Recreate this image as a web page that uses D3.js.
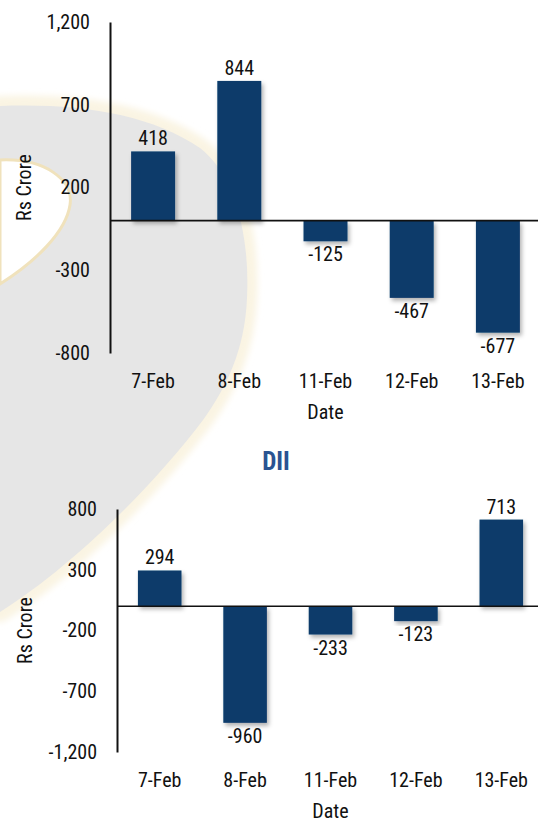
<!DOCTYPE html>
<html><head><meta charset="utf-8">
<script src="https://cdn.jsdelivr.net/npm/d3@7"></script>
<style>
html,body{margin:0;padding:0;background:#fff;overflow:hidden;}
svg text{font-family:'Liberation Sans Narrow','Roboto Condensed','DejaVu Sans Condensed',Roboto,sans-serif;font-stretch:condensed;fill:#111;}
</style></head><body>
<svg id="c" width="538" height="822"></svg>
<script>
const categories = ["7-Feb", "8-Feb", "11-Feb", "12-Feb", "13-Feb"];
const fiiValues = [418, 844, -125, -467, -677];
const diiValues = [294, -960, -233, -123, 713];
const fiiTicks = [-800, -300, 200, 700, 1200];
const diiTicks = [-1200, -700, -200, 300, 800];
const yAxisTitle = "Rs Crore";
const xAxisTitle = "Date";
const diiTitle = "DII";

const W = 538, H = 822;
const svg = d3.select("#c");
const fmt = d => d3.format(",")(d).replace("\u2212", "-");

const defs = svg.append("defs");
const f = defs.append("filter").attr("id", "sh").attr("x", "-20%").attr("y", "-20%").attr("width", "150%").attr("height", "150%");
f.append("feDropShadow").attr("dx", 2).attr("dy", 3).attr("stdDeviation", 2).attr("flood-color", "#000").attr("flood-opacity", 0.3);
const bl = defs.append("filter").attr("id", "bl").attr("x", "-10%").attr("y", "-10%").attr("width", "120%").attr("height", "120%");
bl.append("feGaussianBlur").attr("stdDeviation", 3);

// decorative background watermark
const bg = svg.append("g");
const outer = "M0,106 C80,103 150,114 200,148 C236,176 250,238 247,298 C245,350 226,388 203,420 C150,490 70,568 0,612 Z";
bg.append("path").attr("d", outer).attr("fill", "#faf4e3").attr("stroke", "#faf4e3").attr("stroke-width", 20)
  .attr("stroke-linejoin", "round").attr("filter", "url(#bl)");
bg.append("path").attr("d", outer).attr("fill", "#e6e6e6");
const hole = "M0,160 C45,158 74,180 70,205 C66,232 35,262 0,284 Z";
bg.append("path").attr("d", hole).attr("fill", "#fff").attr("stroke", "#f0e2bc").attr("stroke-width", 3);

function drawChart(cfg) {
  const g = svg.append("g");
  const y = d3.scaleLinear().domain(cfg.domain).range([cfg.yBot, cfg.yTop]);
  const x = d3.scaleBand().domain(categories).range([cfg.x0, cfg.x1]).paddingInner(0.49).paddingOuter(0.245);

  g.selectAll("rect.bar").data(cfg.values).join("rect")
    .attr("class", "bar")
    .attr("x", (d, i) => x(categories[i]))
    .attr("width", x.bandwidth())
    .attr("y", d => y(Math.max(0, d)))
    .attr("height", d => Math.abs(y(d) - y(0)))
    .attr("fill", "#0a3a6a")
    .attr("filter", "url(#sh)");

  g.append("line").attr("x1", cfg.x0).attr("x2", W).attr("y1", y(0)).attr("y2", y(0))
    .attr("stroke", "#111").attr("stroke-width", 1.6);

  const ya = g.append("g").attr("transform", `translate(${cfg.x0},0)`)
    .call(d3.axisLeft(y).tickValues(cfg.ticks).tickSize(0).tickPadding(20).tickFormat(fmt));
  ya.select(".domain").attr("stroke", "#111").attr("stroke-width", 2);
  ya.selectAll("text").attr("font-size", 20).attr("class", "cond");
  ya.attr("font-family", null);

  const xa = g.append("g").attr("transform", `translate(0,${cfg.catY})`)
    .call(d3.axisBottom(x).tickSize(0).tickPadding(0));
  xa.select(".domain").remove();
  xa.selectAll("text").attr("font-size", 20).attr("dy", "0.35em").attr("class", "cond");
  xa.attr("font-family", null);

  g.selectAll("text.val").data(cfg.values).join("text")
    .attr("class", "val cond")
    .attr("x", (d, i) => x(categories[i]) + x.bandwidth() / 2)
    .attr("y", d => d >= 0 ? y(d) - 13 : y(d) + 13)
    .attr("dy", "0.35em")
    .attr("text-anchor", "middle")
    .attr("font-size", 20)
    .text(fmt);

  g.append("text").attr("class", "cond").attr("x", (cfg.x0 + cfg.x1) / 2).attr("y", cfg.dateY).attr("dy", "0.35em")
    .attr("text-anchor", "middle").attr("font-size", 20).text(xAxisTitle);
  g.append("text").attr("class", "cond").attr("transform", `translate(${cfg.ylabX},${(cfg.yTop + cfg.yBot) / 2}) rotate(-90)`)
    .attr("dy", "0.35em").attr("text-anchor", "middle").attr("font-size", 20).text(yAxisTitle);
}

drawChart({ domain: [-800, 1200], ticks: fiiTicks, values: fiiValues,
  x0: 110, x1: 541, yTop: 22, yBot: 353, catY: 381, dateY: 412, ylabX: 24 });

svg.append("text").attr("x", 276).attr("y", 461).attr("dy", "0.35em").attr("text-anchor", "middle")
  .attr("font-size", 25).attr("font-weight", "bold").style("fill", "#2a5391").text(diiTitle);

drawChart({ domain: [-1200, 800], ticks: diiTicks, values: diiValues,
  x0: 117, x1: 544, yTop: 509, yBot: 752, catY: 780, dateY: 811, ylabX: 25 });

// condense text horizontally if the available font is wider than the reference's condensed face
const probe = svg.append("text").attr("font-size", 20).attr("x", -999).attr("y", -999).text("7-Feb");
const pw = probe.node().getComputedTextLength();
probe.remove();
const s = 45 / pw;
if (s < 0.97) {
  svg.selectAll("text.cond").each(function () {
    const t = d3.select(this);
    const x = +(t.attr("x") || 0);
    const prev = t.attr("transform") || "";
    t.attr("transform", `${prev} translate(${x},0) scale(${s},1) translate(${-x},0)`);
  });
}
</script>
</body></html>
